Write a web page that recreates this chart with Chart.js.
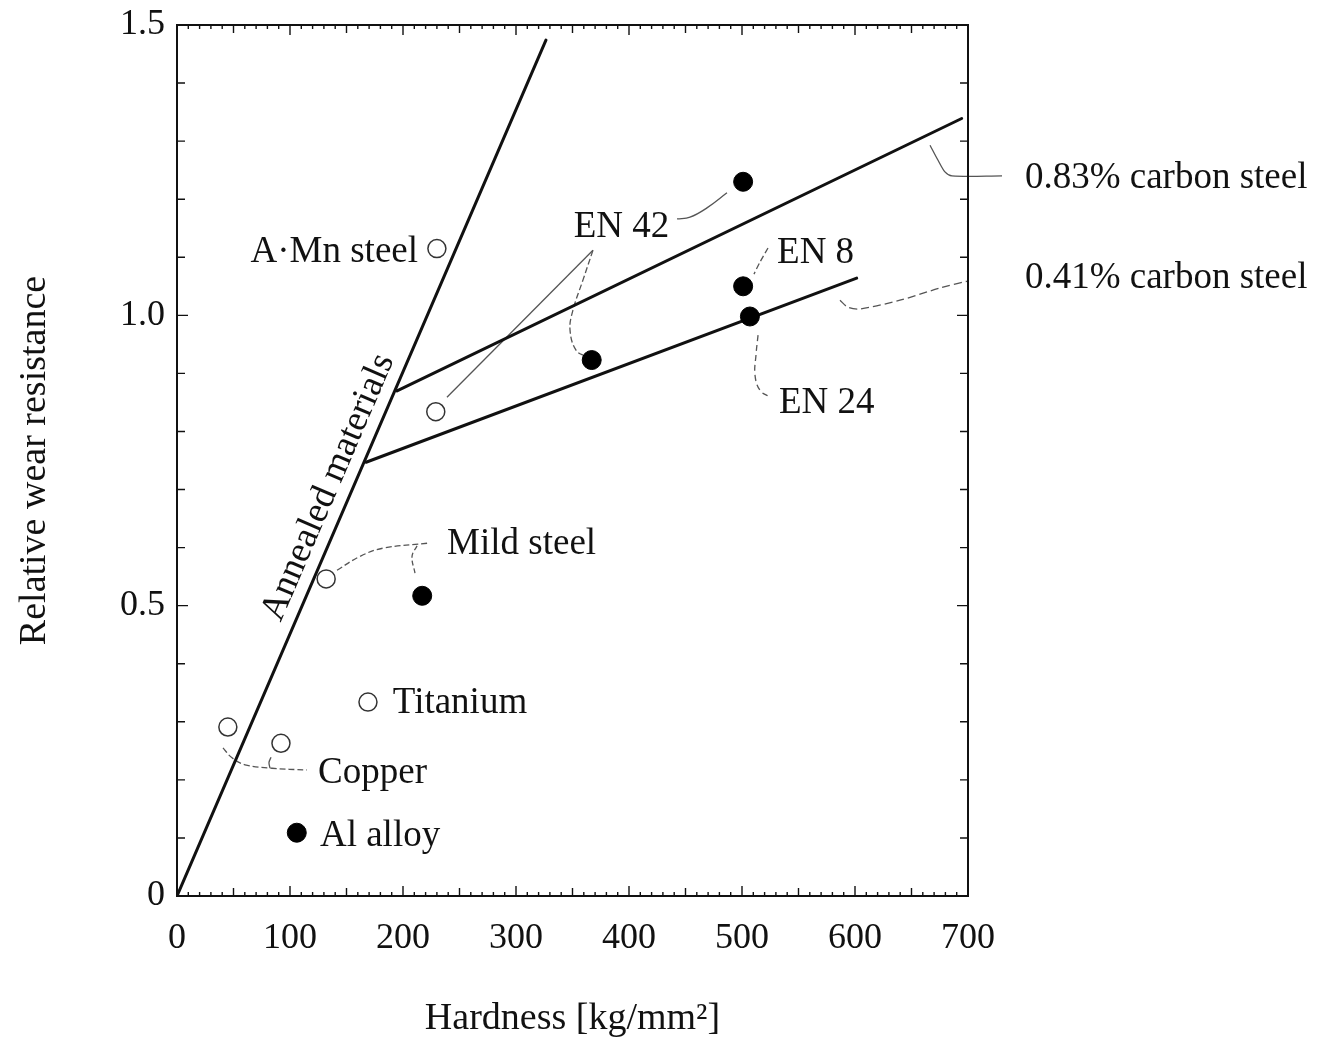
<!DOCTYPE html>
<html>
<head>
<meta charset="utf-8">
<script src="https://cdn.jsdelivr.net/npm/chart.js@4.4.1/dist/chart.umd.min.js"></script>
<style>
  body { margin: 0; background: #fff; }
  #wrap { width: 1321px; height: 1042px; }
</style>
</head>
<body>
<div id="wrap"><canvas id="wearChart" width="1321" height="1042"></canvas></div>
<script>
// hardness [kg/mm2] vs relative wear resistance
const openHardness = [230, 229, 132, 169, 45, 92];
const openWear = [1.115, 0.834, 0.546, 0.334, 0.291, 0.263];
const filledHardness = [106, 217, 367, 501, 501, 507];
const filledWear = [0.109, 0.517, 0.923, 1.230, 1.050, 0.998];

const annealedHardness = [0, 326.5];
const annealedWear = [0, 1.474];
const steel083Hardness = [194.7, 694.4];
const steel083Wear = [0.870, 1.339];
const steel041Hardness = [167.3, 601.5];
const steel041Wear = [0.747, 1.064];

const xTickValues = [0, 100, 200, 300, 400, 500, 600, 700];
const yTickValues = [0, 0.5, 1.0, 1.5];

// thin leader lines from labels to points (hardness list, wear list)
const leaders = [
  { x: [442.5, 454, 469, 486.7], y: [1.166, 1.169, 1.185, 1.211], dash: [], t: 0.4 },
  { x: [368.1, 238.9], y: [1.112, 0.859], dash: [], t: 0 },
  { x: [368.1, 359.3, 350.4, 347.8, 353.1, 362.8], y: [1.112, 1.061, 1.009, 0.975, 0.940, 0.928], dash: [6, 3], t: 0.4 },
  { x: [523.0, 516.0, 510.6], y: [1.116, 1.092, 1.071], dash: [6, 3], t: 0.3 },
  { x: [514.2, 512.4, 511.5, 515.9, 524.8], y: [0.966, 0.932, 0.897, 0.871, 0.859], dash: [6, 4], t: 0.4 },
  { x: [666.4, 673.5, 679.6, 685.8, 730.1], y: [1.293, 1.267, 1.247, 1.240, 1.240], dash: [], t: 0.3 },
  { x: [586.7, 593.8, 604.4, 639.8, 675.2, 700, 731], y: [1.026, 1.014, 1.011, 1.026, 1.047, 1.059, 1.066], dash: [8, 4], t: 0.3 },
  { x: [141.6, 162, 182.3, 223.9], y: [0.561, 0.585, 0.599, 0.608], dash: [6, 3], t: 0.4 },
  { x: [212.4, 208, 210.6], y: [0.603, 0.585, 0.556], dash: [5, 3], t: 0.4 },
  { x: [40.7, 48.7, 60.2, 84.1, 115.0], y: [0.255, 0.238, 0.226, 0.220, 0.217], dash: [6, 3], t: 0.4 },
  { x: [82.3, 81.4, 83.2], y: [0.220, 0.230, 0.239], dash: [], t: 0.3 }
];

const labelTexts = [
  { text: 'A\u00b7Mn steel', x: 213.3, y: 1.114, align: 'right' },
  { text: 'EN 42', x: 393.4, y: 1.156, align: 'center' },
  { text: 'EN 8', x: 531, y: 1.112, align: 'left' },
  { text: 'EN 24', x: 532.7, y: 0.854, align: 'left' },
  { text: '0.83% carbon steel', x: 750.4, y: 1.242, align: 'left' },
  { text: '0.41% carbon steel', x: 750.4, y: 1.069, align: 'left' },
  { text: 'Mild steel', x: 239, y: 0.611, align: 'left' },
  { text: 'Titanium', x: 191, y: 0.337, align: 'left' },
  { text: 'Copper', x: 124.8, y: 0.217, align: 'left' },
  { text: 'Al alloy', x: 126.5, y: 0.108, align: 'left' }
];
const annealedLabel = { text: 'Annealed materials', x: 134, y: 0.704 };

const SERIF = '"Liberation Serif", "DejaVu Serif", serif';

function pts(xs, ys) {
  return xs.map((x, i) => ({ x: x, y: ys[i] }));
}

const datasets = [
  {
    data: pts(openHardness, openWear), showLine: false, order: 0,
    pointRadius: 9, pointBackgroundColor: '#fff', pointBorderColor: '#333', pointBorderWidth: 1.5
  },
  {
    data: pts(filledHardness, filledWear), showLine: false, order: 0,
    pointRadius: 9.5, pointBackgroundColor: '#000', pointBorderColor: '#000', pointBorderWidth: 1
  }
];

[[annealedHardness, annealedWear], [steel083Hardness, steel083Wear], [steel041Hardness, steel041Wear]].forEach(l => {
  datasets.push({
    data: pts(l[0], l[1]), showLine: true, order: 1,
    borderColor: '#111', borderWidth: 3, pointRadius: 0, borderCapStyle: 'round'
  });
});

leaders.forEach(l => {
  datasets.push({
    data: pts(l.x, l.y), showLine: true, order: 2, clip: false,
    borderColor: '#555', borderWidth: 1.3, borderDash: l.dash, tension: l.t, pointRadius: 0
  });
});

// frame with inward ticks on all four sides
const frameTicks = {
  id: 'frameTicks',
  afterDatasetsDraw(chart) {
    const { ctx, chartArea: a, scales: { x, y } } = chart;
    ctx.save();
    ctx.strokeStyle = '#111';
    ctx.lineWidth = 1.4;
    ctx.beginPath();
    for (let v = 0; v <= 700; v += 10) {
      const px = x.getPixelForValue(v);
      const len = v % 100 === 0 ? 10 : (v % 50 === 0 ? 8 : 4);
      ctx.moveTo(px, a.bottom); ctx.lineTo(px, a.bottom - len);
      ctx.moveTo(px, a.top); ctx.lineTo(px, a.top + len);
    }
    for (let k = 0; k <= 15; k++) {
      const py = y.getPixelForValue(k / 10);
      const len = k % 5 === 0 ? 11 : 8;
      ctx.moveTo(a.left, py); ctx.lineTo(a.left + len, py);
      ctx.moveTo(a.right, py); ctx.lineTo(a.right - len, py);
    }
    ctx.stroke();
    ctx.lineWidth = 2;
    ctx.strokeRect(a.left, a.top, a.right - a.left, a.bottom - a.top);
    ctx.restore();
  }
};

const textLabels = {
  id: 'textLabels',
  afterDatasetsDraw(chart) {
    const { ctx, scales: { x, y } } = chart;
    ctx.save();
    ctx.fillStyle = '#111';
    ctx.font = '37px ' + SERIF;
    ctx.textBaseline = 'middle';
    labelTexts.forEach(l => {
      ctx.textAlign = l.align;
      // +3px so the cap height, not the em box, is centred on the anchor
      ctx.fillText(l.text, x.getPixelForValue(l.x), y.getPixelForValue(l.y) + 3);
    });
    // rotated along the annealed line
    const ang = Math.atan2(
      y.getPixelForValue(annealedWear[1]) - y.getPixelForValue(annealedWear[0]),
      x.getPixelForValue(annealedHardness[1]) - x.getPixelForValue(annealedHardness[0])
    );
    ctx.translate(x.getPixelForValue(annealedLabel.x), y.getPixelForValue(annealedLabel.y));
    ctx.rotate(ang);
    ctx.textAlign = 'center';
    ctx.fillText(annealedLabel.text, 0, 0);
    ctx.restore();
  }
};

new Chart(document.getElementById('wearChart'), {
  type: 'scatter',
  data: { datasets: datasets },
  plugins: [frameTicks, textLabels],
  options: {
    responsive: false,
    animation: false,
    layout: { padding: { top: 25, right: 353, left: 0, bottom: 0 } },
    plugins: { legend: { display: false }, tooltip: { enabled: false } },
    scales: {
      x: {
        type: 'linear', min: 0, max: 700,
        afterBuildTicks: s => { s.ticks = xTickValues.map(v => ({ value: v })); },
        afterFit: s => { s.height = 146; s.paddingLeft = 0; s.paddingRight = 0; },
        grid: { display: false, drawTicks: false },
        border: { display: false },
        ticks: { color: '#111', padding: 21, maxRotation: 0, font: { family: SERIF, size: 36 } },
        title: {
          display: true, text: 'Hardness [kg/mm\u00b2]', color: '#111',
          font: { family: SERIF, size: 38 }, padding: { top: 0, bottom: 0 }
        }
      },
      y: {
        type: 'linear', min: 0, max: 1.5,
        afterBuildTicks: s => { s.ticks = yTickValues.map(v => ({ value: v })); },
        afterFit: s => { s.width = 177; s.paddingTop = 0; s.paddingBottom = 0; },
        grid: { display: false, drawTicks: false },
        border: { display: false },
        ticks: {
          color: '#111', padding: 12, font: { family: SERIF, size: 36 },
          callback: v => (v === 0 ? '0' : v.toFixed(1))
        },
        title: {
          display: true, text: 'Relative wear resistance', color: '#111',
          font: { family: SERIF, size: 38 }, padding: { top: 12, bottom: 0 }
        }
      }
    }
  }
});
</script>
</body>
</html>
